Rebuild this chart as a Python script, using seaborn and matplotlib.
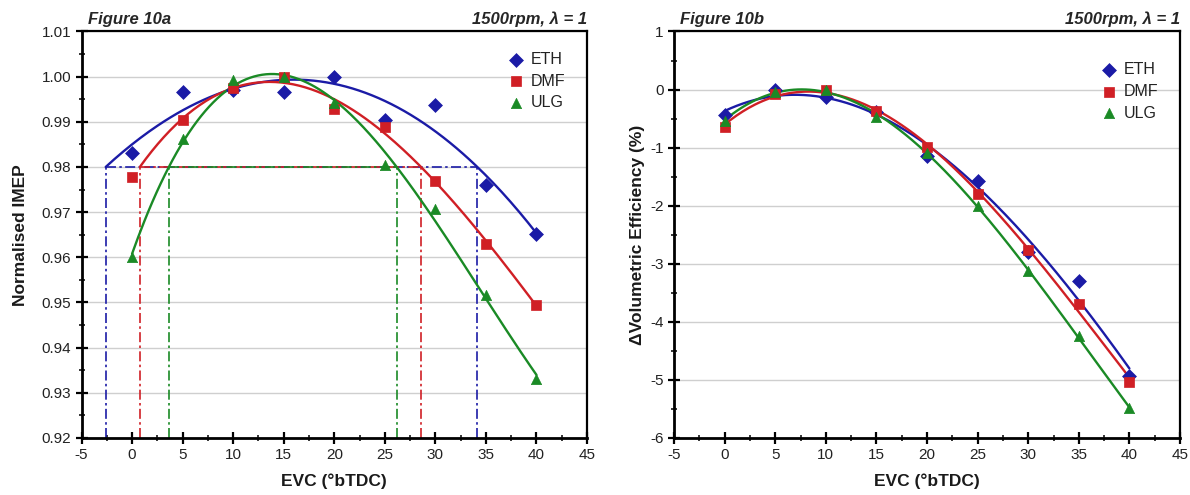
import numpy as np
import pandas as pd
import matplotlib
matplotlib.use("Agg")
import matplotlib.pyplot as plt
import seaborn as sns
from matplotlib.ticker import MultipleLocator, FormatStrFormatter

# ---------------- data ----------------
evc = [0, 5, 10, 15, 20, 25, 30, 35, 40]
fuels = ["ETH", "DMF", "ULG"]

imep_eth = [0.9831, 0.9965, 0.9970, 0.9965, 1.0000, 0.9904, 0.9937, 0.9761, 0.9652]
imep_dmf = [0.9777, 0.9903, 0.9974, 1.0000, 0.9929, 0.9888, 0.9768, 0.9630, 0.9495]
imep_ulg = [0.9600, 0.9862, 0.9992, 1.0000, 0.9941, 0.9804, 0.9708, 0.9517, 0.9330]

dve_eth = [-0.44, 0.00, -0.13, -0.38, -1.14, -1.57, -2.80, -3.30, -4.94]
dve_dmf = [-0.64, -0.08, 0.00, -0.37, -0.99, -1.80, -2.76, -3.69, -5.03]
dve_ulg = [-0.54, -0.04, -0.01, -0.47, -1.09, -2.01, -3.13, -4.24, -5.49]

imep_threshold = 0.98
curve_starts_at_crossing = [True, True, False]

colors = {"ETH": "#1b1ba6", "DMF": "#d01f25", "ULG": "#1a8a25"}
markers = {"ETH": "D", "DMF": "s", "ULG": "^"}

imep = {"ETH": imep_eth, "DMF": imep_dmf, "ULG": imep_ulg}
dve = {"ETH": dve_eth, "DMF": dve_dmf, "ULG": dve_ulg}

# ---------------- style ----------------
sns.set_style("ticks")
plt.rcParams["font.family"] = ["Liberation Sans", "DejaVu Sans"]
plt.rcParams["axes.unicode_minus"] = False

fig = plt.figure(figsize=(11.9, 4.95), dpi=100)
axL = fig.add_axes([0.0685, 0.1152, 0.4248, 0.8212])
axR = fig.add_axes([0.5664, 0.1152, 0.4252, 0.8212])


def style_axes(ax, ylim, ymajor, yminor, fmt):
    ax.set_xlim(-5, 45)
    ax.set_ylim(*ylim)
    ax.xaxis.set_major_locator(MultipleLocator(5))
    ax.xaxis.set_minor_locator(MultipleLocator(2.5))
    ax.yaxis.set_major_locator(MultipleLocator(ymajor))
    ax.yaxis.set_minor_locator(MultipleLocator(yminor))
    ax.yaxis.set_major_formatter(FormatStrFormatter(fmt))
    ax.tick_params(which="major", direction="inout", length=9, width=1.6,
                   labelsize=11, colors="black", labelcolor="#222222", pad=3)
    ax.tick_params(which="minor", direction="inout", length=5, width=1.3)
    for s in ["left", "bottom"]:
        ax.spines[s].set_linewidth(2.0)
    for s in ["top", "right"]:
        ax.spines[s].set_linewidth(1.6)
    for s in ax.spines.values():
        s.set_color("black")
    ax.yaxis.grid(True, color="#cfcfcf", lw=1.0)
    ax.set_axisbelow(True)
    ax.set_xlabel("EVC (\u00b0bTDC)", fontsize=12.5, fontweight="bold", labelpad=8,
                  color="#1a1a1a")


def add_legend(ax, anchor):
    h, l = ax.get_legend_handles_labels()
    keep = [(hh, ll) for hh, ll in zip(h, l) if ll in fuels]
    leg = ax.legend([k[0] for k in keep], [k[1] for k in keep], loc="upper right",
                    bbox_to_anchor=anchor, frameon=False, fontsize=11.5,
                    handletextpad=0.3, labelspacing=0.42, handlelength=1.2,
                    markerscale=1.0)
    for t in leg.get_texts():
        t.set_color("#222222")


# ---------------- Figure 10a ----------------
for fuel, from_cross in zip(fuels, curve_starts_at_crossing):
    y = np.array(imep[fuel])
    coef = np.polyfit(evc, y, 3)
    poly = np.poly1d(coef)
    roots = (poly - imep_threshold).roots
    roots = np.sort([r.real for r in roots if abs(r.imag) < 1e-9 and -10 < r.real < 45])
    left_c, right_c = roots[0], roots[-1]
    x0 = left_c if from_cross else evc[0]
    xs = np.linspace(x0, evc[-1], 200)
    c = colors[fuel]
    sns.lineplot(x=xs, y=poly(xs), ax=axL, color=c, lw=1.7, zorder=3)
    # threshold construction lines
    dd = (0, (6, 2, 1.5, 2))
    sns.lineplot(x=[left_c, right_c], y=[imep_threshold, imep_threshold], ax=axL,
                 color=c, lw=1.2, linestyle=dd, zorder=2)
    for xc in (left_c, right_c):
        axL.plot([xc, xc], [0.92, imep_threshold], color=c, lw=1.2, linestyle=dd, zorder=2)

for fuel in fuels:
    sns.scatterplot(x=evc, y=imep[fuel], ax=axL, color=colors[fuel], marker=markers[fuel],
                    s=55 if fuel != "ETH" else 50, edgecolor=colors[fuel], linewidth=0.5,
                    label=fuel, zorder=4)

style_axes(axL, (0.92, 1.01), 0.01, 0.005, "%.2f")
axL.set_ylabel("Normalised IMEP", fontsize=12.5, fontweight="bold", labelpad=10,
               color="#1a1a1a")
add_legend(axL, (0.985, 0.985))
axL.text(0.012, 1.012, "Figure 10a", transform=axL.transAxes, fontsize=12,
         fontweight="bold", fontstyle="italic", ha="left", va="bottom")
axL.text(1.0, 1.012, "1500rpm, \u03bb = 1", transform=axL.transAxes, fontsize=12,
         fontweight="bold", fontstyle="italic", ha="right", va="bottom")

# ---------------- Figure 10b ----------------
for fuel in fuels:
    y = np.array(dve[fuel])
    poly = np.poly1d(np.polyfit(evc, y, 3))
    xs = np.linspace(evc[0], evc[-1], 200)
    sns.lineplot(x=xs, y=poly(xs), ax=axR, color=colors[fuel], lw=1.7, zorder=3)

for fuel in fuels:
    sns.scatterplot(x=evc, y=dve[fuel], ax=axR, color=colors[fuel], marker=markers[fuel],
                    s=55 if fuel != "ETH" else 50, edgecolor=colors[fuel], linewidth=0.5,
                    label=fuel, zorder=4)

style_axes(axR, (-6, 1), 1, 0.5, "%d")
axR.set_ylabel("\u0394Volumetric Efficiency (%)", fontsize=12.5, fontweight="bold",
               labelpad=4, color="#1a1a1a")
add_legend(axR, (0.985, 0.96))
axR.text(0.012, 1.012, "Figure 10b", transform=axR.transAxes, fontsize=12,
         fontweight="bold", fontstyle="italic", ha="left", va="bottom")
axR.text(1.0, 1.012, "1500rpm, \u03bb = 1", transform=axR.transAxes, fontsize=12,
         fontweight="bold", fontstyle="italic", ha="right", va="bottom")

fig.savefig("out.png", dpi=100)
